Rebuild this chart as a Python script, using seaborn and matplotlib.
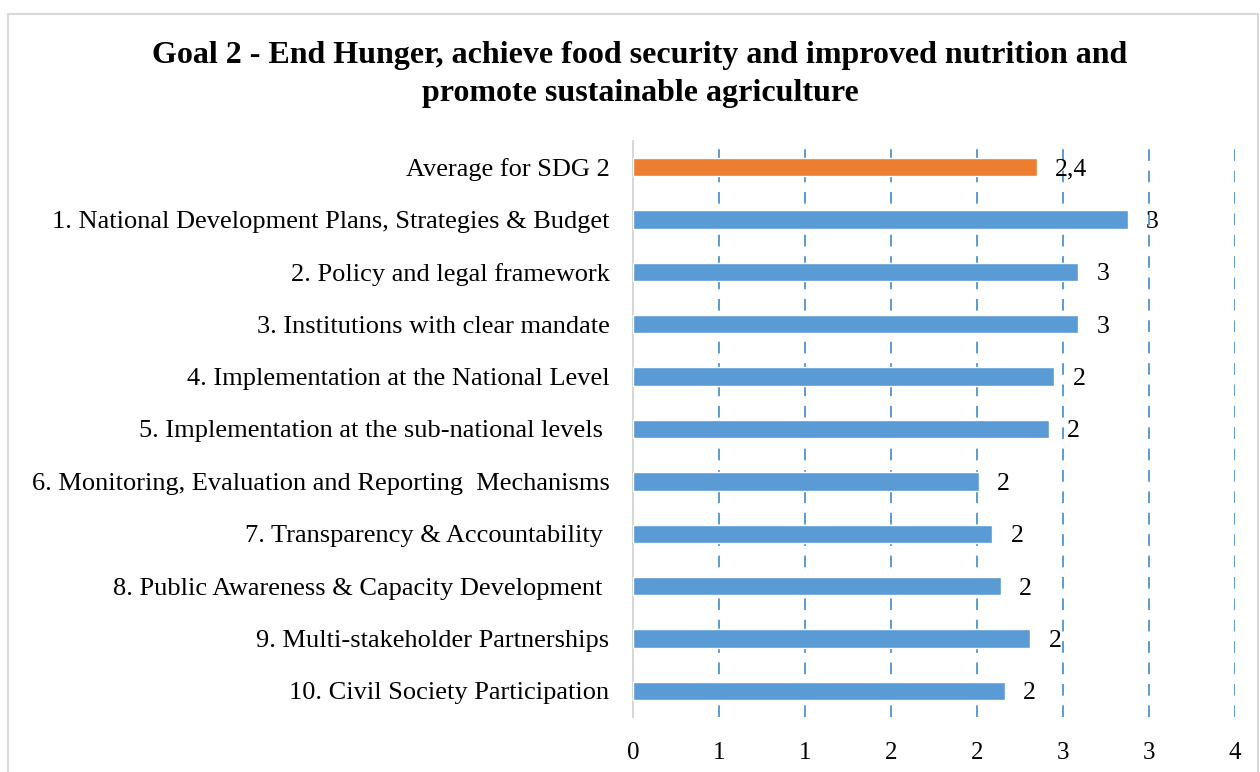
import matplotlib
matplotlib.use("Agg")
import matplotlib.pyplot as plt
import seaborn as sns
import pandas as pd
from matplotlib.patches import Rectangle

# data
categories = [
    "Average for SDG 2",
    "1. National Development Plans, Strategies & Budget",
    "2. Policy and legal framework",
    "3. Institutions with clear mandate",
    "4. Implementation at the National Level",
    "5. Implementation at the sub-national levels ",
    "6. Monitoring, Evaluation and Reporting  Mechanisms",
    "7. Transparency & Accountability ",
    "8. Public Awareness & Capacity Development ",
    "9. Multi-stakeholder Partnerships",
    "10. Civil Society Participation",
]
scores = [2.35, 2.875, 2.59, 2.59, 2.45, 2.42, 2.01, 2.09, 2.14, 2.31, 2.16]
x_ticks = [0, 0.5, 1.0, 1.5, 2.0, 2.5, 3.0, 3.5]
x_tick_labels = ["0", "1", "1", "2", "2", "3", "3", "4"]

orange = "#ED7D31"
blue = "#5B9BD5"

df = pd.DataFrame({"category": categories, "score": scores})
colors = [orange] + [blue] * (len(categories) - 1)

sns.set_style("white")
plt.rcParams["font.family"] = ["Liberation Serif", "DejaVu Serif"]
plt.rcParams["text.color"] = "black"
plt.rcParams["xtick.color"] = "black"
plt.rcParams["ytick.color"] = "black"

fig = plt.figure(figsize=(12.6, 7.72), dpi=100)
ax = fig.add_axes([633 / 1260, 1 - 717 / 772, (1235 - 633) / 1260, (717 - 141) / 772])

sns.barplot(data=df, x="score", y="category", hue="category", palette=colors,
            saturation=1, legend=False, orient="h", width=0.35, ax=ax, zorder=3)

ax.set_xlim(0, 3.5)
ax.set_ylim(len(categories) - 0.5, -0.5)
ax.set_xticks(x_ticks)
ax.set_xticklabels(x_tick_labels)
ax.tick_params(axis="x", labelsize=18, length=0, pad=18, colors="black")
ax.tick_params(axis="y", labelsize=19, length=0, pad=17, colors="black")
ax.set_xlabel("")
ax.set_ylabel("")

for x in x_ticks[1:]:
    ax.axvline(x, color=blue, lw=1.4, ls=(0, (6, 5)), zorder=1)

for s in ["top", "right", "bottom"]:
    ax.spines[s].set_visible(False)
ax.spines["left"].set_color("#D0D0D0")
ax.spines["left"].set_linewidth(1.2)

# data labels
for i, v in enumerate(scores):
    if i == 0:
        txt = f"{v:.1f}".replace(".", ",")
    else:
        txt = f"{v:.0f}"
    ax.annotate(txt, (v, i), xytext=(13, 0), textcoords="offset points",
                ha="left", va="center_baseline", fontsize=18.5, color="black", zorder=4)

fig.text(0.508, 1 - 56 / 772, "Goal 2 - End Hunger, achieve food security and improved nutrition and",
         ha="center", va="center", fontsize=23, fontweight="bold", color="black")
fig.text(0.508, 1 - 94 / 772, "promote sustainable agriculture",
         ha="center", va="center", fontsize=23, fontweight="bold", color="black")

# chart border
fig.patches.append(Rectangle((8 / 1260, -0.05), 1258 / 1260 - 8 / 1260, 1 - 14 / 772 + 0.05,
                             transform=fig.transFigure, fill=False, edgecolor="#D9D9D9", lw=1.5))

fig.savefig("out.png", dpi=100)
